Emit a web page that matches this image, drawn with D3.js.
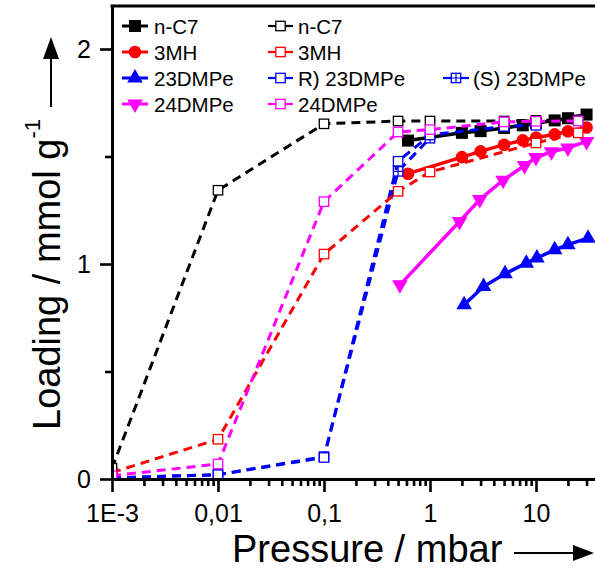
<!DOCTYPE html>
<html>
<head>
<meta charset="utf-8">
<script src="https://cdn.jsdelivr.net/npm/d3@7"></script>
<style>
body{margin:0;background:#fff}
svg{display:block;font-family:"Liberation Sans",Arial,sans-serif}
</style>
</head>
<body>
<svg width="595" height="575"></svg>
<script>
// pressure in mbar, loading in mmol/g

// filled symbols, solid lines
const filledPressure = [0.62, 2, 3, 5, 7.5, 10, 15, 20, 30];
const nC7Loading = [1.574, 1.61, 1.618, 1.633, 1.645, 1.655, 1.668, 1.678, 1.695];
const mh3Loading = [1.42, 1.497, 1.524, 1.555, 1.575, 1.588, 1.603, 1.617, 1.635];
const dmpe24Pressure = [0.52, 1.9, 2.95, 4.9, 7.8, 10, 14, 20, 30];
const dmpe24Loading = [0.903, 1.198, 1.30, 1.39, 1.458, 1.495, 1.522, 1.54, 1.57];
const dmpe23Pressure = [2.1, 3.2, 5.1, 8.1, 10.2, 15, 20, 31];
const dmpe23Loading = [0.81, 0.895, 0.955, 1.004, 1.028, 1.066, 1.09, 1.12];

// open symbols, dashed lines
const openPressure = [0.001, 0.01, 0.1, 0.5, 1, 5, 10, 25];
const nC7OpenLoading = [0.05, 1.343, 1.652, 1.665, 1.665, 1.665, 1.668, 1.67];
const dmpe24OpenLoading = [0.015, 0.07, 1.29, 1.614, 1.625, 1.661, 1.664, 1.665];
const mh3OpenPressure = [0.001, 0.01, 0.1, 0.5, 1, 10, 25];
const mh3OpenLoading = [0.03, 0.185, 1.046, 1.338, 1.428, 1.563, 1.61];
const rDmpe23Pressure = [0.001, 0.01, 0.1, 0.5, 1, 5, 10];
const rDmpe23Loading = [0.005, 0.02, 0.1, 1.478, 1.6, 1.64, 1.645];
const sDmpe23Pressure = [0.001, 0.01, 0.1, 0.5, 1];
const sDmpe23Loading = [0.005, 0.02, 0.104, 1.431, 1.585];

const xTicks = [0.001, 0.01, 0.1, 1, 10];
const xTickLabels = ['1E-3', '0,01', '0,1', '1', '10'];
const yTicks = [0, 1, 2];
const yMinorTicks = [0.5, 1.5];

const svg = d3.select('svg');
const margin = {top: 6, left: 112, bottom: 479};

const x = d3.scaleLog().domain([1e-3, 1e3]).range([112, 748]);
const y = d3.scaleLinear().domain([0, 2.2]).range([479, 6]);

const zip = (ps, vs) => ps.map((p, i) => ({p: p, v: vs[i]}));

const series = [
  {name: '23DMPe', data: zip(dmpe23Pressure, dmpe23Loading), color: '#0000ff', mark: 'triUp', dash: null},
  {name: '24DMPe', data: zip(dmpe24Pressure, dmpe24Loading), color: '#ff00ff', mark: 'triDown', dash: null},
  {name: '3MH', data: zip(filledPressure, mh3Loading), color: '#ff0000', mark: 'circle', dash: null},
  {name: 'n-C7', data: zip(filledPressure, nC7Loading), color: '#000000', mark: 'square', dash: null},
  {name: '(S) 23DMPe', data: zip(sDmpe23Pressure, sDmpe23Loading), color: '#0000ff', mark: 'cross', dash: '9,6'},
  {name: 'R) 23DMPe', data: zip(rDmpe23Pressure, rDmpe23Loading), color: '#0000ff', mark: 'open', dash: '9,6'},
  {name: '3MH', data: zip(mh3OpenPressure, mh3OpenLoading), color: '#ff0000', mark: 'open', dash: '9,6'},
  {name: 'n-C7', data: zip(openPressure, nC7OpenLoading), color: '#000000', mark: 'open', dash: '9,6'},
  {name: '24DMPe', data: zip(openPressure, dmpe24OpenLoading), color: '#ff00ff', mark: 'open', dash: '9,6'}
];

//draw one marker at cx,cy
const drawMarker = (g, mark, color, cx, cy) => {
  if (mark === 'square') {
    g.append('rect').attr('x', cx - 6).attr('y', cy - 6).attr('width', 12).attr('height', 12).attr('fill', color);
  } else if (mark === 'circle') {
    g.append('circle').attr('cx', cx).attr('cy', cy).attr('r', 6.3).attr('fill', color);
  } else if (mark === 'triUp' || mark === 'triDown') {
    g.append('path')
      .attr('d', d3.symbol().type(d3.symbolTriangle).size(105)())
      .attr('transform', `translate(${cx},${cy})` + (mark === 'triDown' ? ' rotate(180)' : ''))
      .attr('fill', color);
  } else {
    g.append('rect').attr('x', cx - 4.7).attr('y', cy - 4.7).attr('width', 9.4).attr('height', 9.4)
      .attr('fill', '#fff').attr('stroke', color).attr('stroke-width', 1.3);
    if (mark === 'cross') {
      g.append('path').attr('d', `M${cx},${cy - 4.7}V${cy + 4.7}M${cx - 4.7},${cy}H${cx + 4.7}`)
        .attr('stroke', color).attr('stroke-width', 1.2);
    }
  }
};

//clip to the plot area
svg.append('clipPath').attr('id', 'plot')
  .append('rect').attr('x', 112).attr('y', 6).attr('width', 500).attr('height', 473);

const plot = svg.append('g').attr('clip-path', 'url(#plot)');

const line = d3.line().x(d => x(d.p)).y(d => y(d.v));

series.forEach(s => {
  plot.append('path')
    .datum(s.data)
    .attr('d', line)
    .attr('fill', 'none')
    .attr('stroke', s.color)
    .attr('stroke-width', s.dash ? 3 : 3.5)
    .attr('stroke-dasharray', s.dash);
  s.data.forEach(d => drawMarker(plot, s.mark, s.color, x(d.p), y(d.v)));
});

//AXES
const minorTicks = [];
for (let e = -3; e < 3; e++) {
  for (let k = 2; k < 10; k++) minorTicks.push(k * Math.pow(10, e));
}

const gxMinor = svg.append('g').attr('transform', `translate(0,${margin.bottom})`)
  .call(d3.axisBottom(x).tickValues(minorTicks).tickSize(7).tickFormat('').tickSizeOuter(0));
const gx = svg.append('g').attr('transform', `translate(0,${margin.bottom})`)
  .call(d3.axisBottom(x).tickValues(xTicks).tickSize(13).tickPadding(12).tickSizeOuter(0)
    .tickFormat((d, i) => xTickLabels[i]));

const gyMinor = svg.append('g').attr('transform', `translate(${margin.left},0)`)
  .call(d3.axisLeft(y).tickValues(yMinorTicks).tickSize(7).tickFormat('').tickSizeOuter(0));
const gy = svg.append('g').attr('transform', `translate(${margin.left},0)`)
  .call(d3.axisLeft(y).tickValues(yTicks).tickSize(12).tickPadding(9).tickSizeOuter(0)
    .tickFormat(d3.format('d')));

[gxMinor, gx, gyMinor, gy].forEach(g => {
  g.attr('font-family', null).attr('font-size', 25);
  g.selectAll('.domain').attr('stroke', '#000').attr('stroke-width', 3);
  g.selectAll('.tick line').attr('stroke', '#000').attr('stroke-width', 2.6);
  g.selectAll('.tick text').attr('fill', '#000');
});

//top frame line
svg.append('line')
  .attr('x1', 110.5).attr('x2', 600).attr('y1', 6).attr('y2', 6)
  .attr('stroke', '#000').attr('stroke-width', 3);

//TITLES
svg.append('text')
  .attr('x', 232).attr('y', 562)
  .attr('font-size', 38)
  .text('Pressure / mbar');

svg.append('line')
  .attr('x1', 514).attr('x2', 580).attr('y1', 553).attr('y2', 553)
  .attr('stroke', '#000').attr('stroke-width', 2);
svg.append('path')
  .attr('d', 'M594,553L573,545L573,561Z')
  .attr('fill', '#000');

const yTitle = svg.append('text')
  .attr('transform', 'translate(60,430) rotate(-90)')
  .attr('font-size', 38)
  .text('Loading / mmol g');
yTitle.append('tspan').attr('dy', -20).attr('font-size', 22).text('-1');

svg.append('line')
  .attr('x1', 51).attr('x2', 51).attr('y1', 107).attr('y2', 50)
  .attr('stroke', '#000').attr('stroke-width', 2);
svg.append('path')
  .attr('d', 'M51,37L43,59L59,59Z')
  .attr('fill', '#000');

//LEGEND
const legendRows = [26, 52, 78, 104];
const legendItems = [
  {col: 0, row: 0, s: series[3]},
  {col: 0, row: 1, s: series[2]},
  {col: 0, row: 2, s: series[0]},
  {col: 0, row: 3, s: series[1]},
  {col: 1, row: 0, s: series[7]},
  {col: 1, row: 1, s: series[6]},
  {col: 1, row: 2, s: series[5]},
  {col: 1, row: 3, s: series[8]},
  {col: 2, row: 2, s: series[4]}
];
const legendCols = [{x1: 122, x2: 148, tx: 154}, {x1: 268, x2: 293, tx: 298}, {x1: 443, x2: 469, tx: 473}];

const legend = svg.append('g');
legendItems.forEach(it => {
  const c = legendCols[it.col];
  const cy = legendRows[it.row];
  legend.append('line')
    .attr('x1', c.x1).attr('x2', c.x2).attr('y1', cy).attr('y2', cy)
    .attr('stroke', it.s.color).attr('stroke-width', it.s.dash ? 2.2 : 3);
  drawMarker(legend, it.s.mark, it.s.color, (c.x1 + c.x2) / 2, cy);
  legend.append('text')
    .attr('x', c.tx).attr('y', cy + 7.5)
    .attr('font-size', 20.5)
    .text(it.s.name);
});
</script>
</body>
</html>
